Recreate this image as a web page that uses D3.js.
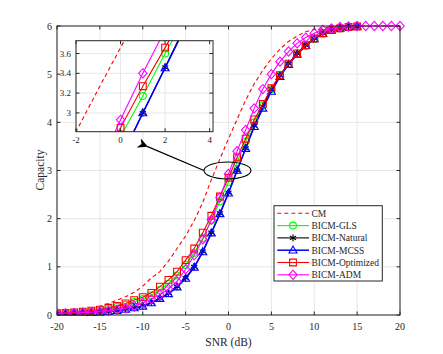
<!DOCTYPE html>
<html>
<head>
<meta charset="utf-8">
<script src="https://cdn.jsdelivr.net/npm/d3@7"></script>
<style>
  body { margin: 0; background: #fff; }
  text { font-family: "Liberation Serif", "DejaVu Serif", serif; fill: #262626; }
</style>
</head>
<body>
<div id="main"></div>
<script>
// SNR grid (dB)
var snr_full = d3.range(-20, 21);
var snr_bicm = d3.range(-20, 16);

// capacity values
var cm = [0.04, 0.05, 0.06, 0.08, 0.12, 0.18, 0.24, 0.31, 0.38, 0.47, 0.60, 0.77, 0.90, 1.12, 1.38, 1.64, 1.96, 2.34, 2.81, 3.24,
  3.66, 4.06, 4.46, 4.80, 5.08, 5.32, 5.52, 5.68, 5.79, 5.88, 5.93, 5.96, 5.98, 5.99, 6.0, 6.0, 6.0, 6.0, 6.0, 6.0, 6.0];
var gls = [0.03, 0.04, 0.05, 0.06, 0.08, 0.10, 0.13, 0.17, 0.21, 0.27, 0.33, 0.41, 0.52, 0.65, 0.82, 1.04, 1.29, 1.60, 1.96, 2.36,
  2.76, 3.17, 3.60, 4.00, 4.35, 4.69, 4.97, 5.21, 5.42, 5.59, 5.73, 5.84, 5.91, 5.95, 5.98, 5.99];
var natural = [0.02, 0.025, 0.03, 0.04, 0.05, 0.06, 0.075, 0.095, 0.12, 0.15, 0.19, 0.26, 0.35, 0.45, 0.59, 0.77, 1.00, 1.32, 1.71, 2.11,
  2.54, 3.00, 3.46, 3.93, 4.33, 4.69, 4.98, 5.22, 5.43, 5.60, 5.74, 5.85, 5.92, 5.95, 5.98, 5.99];
var mcss = [0.02, 0.025, 0.03, 0.035, 0.045, 0.055, 0.07, 0.09, 0.115, 0.145, 0.18, 0.25, 0.34, 0.44, 0.58, 0.76, 0.99, 1.31, 1.70, 2.10,
  2.53, 3.00, 3.455, 3.91, 4.29, 4.64, 4.95, 5.20, 5.41, 5.59, 5.73, 5.84, 5.91, 5.95, 5.98, 5.99];
var optimized = [0.035, 0.045, 0.055, 0.07, 0.09, 0.11, 0.15, 0.19, 0.24, 0.31, 0.37, 0.46, 0.59, 0.73, 0.90, 1.14, 1.38, 1.71, 2.06, 2.46,
  2.85, 3.27, 3.66, 4.06, 4.38, 4.71, 4.98, 5.22, 5.43, 5.60, 5.74, 5.85, 5.92, 5.95, 5.98, 5.99];
var adm = [0.03, 0.035, 0.04, 0.05, 0.06, 0.075, 0.09, 0.11, 0.14, 0.19, 0.25, 0.33, 0.42, 0.54, 0.70, 0.95, 1.24, 1.57, 1.98, 2.44,
  2.93, 3.40, 3.84, 4.29, 4.69, 5.00, 5.26, 5.47, 5.64, 5.76, 5.85, 5.92, 5.95, 5.98, 5.99, 6.0, 6.0, 6.0, 6.0, 6.0, 6.0];

var names = ['CM', 'BICM-GLS', 'BICM-Natural', 'BICM-MCSS', 'BICM-Optimized', 'BICM-ADM'];
var colors = ['#ff0000', '#00ff00', '#000000', '#0000ff', '#ff0000', '#ff00ff'];
var markers = ['none', 'circle', 'star', 'triangle', 'square', 'diamond'];

var x_ticks = [-20, -15, -10, -5, 0, 5, 10, 15, 20];
var y_ticks = [0, 1, 2, 3, 4, 5, 6];
var inset_x_ticks = [-2, 0, 2, 4];
var inset_y_ticks = [3, 3.2, 3.4, 3.6];

var series = [
  { x: snr_full, y: cm },
  { x: snr_bicm, y: gls },
  { x: snr_bicm, y: natural },
  { x: snr_bicm, y: mcss },
  { x: snr_bicm, y: optimized },
  { x: snr_full, y: adm }
];
series.forEach(function (s, i) {
  s.name = names[i];
  s.color = colors[i];
  s.marker = markers[i];
  s.points = s.x.map(function (v, k) { return [v, s.y[k]]; });
});

var width = 443, height = 354;
var svg = d3.select('#main').append('svg').attr('width', width).attr('height', height);

var x = d3.scaleLinear().domain([-20, 20]).range([57, 400]);
var y = d3.scaleLinear().domain([0, 6]).range([315, 26]);

function markerPath(type) {
  if (type === 'circle') return d3.symbol(d3.symbolCircle, 38)();
  if (type === 'square') return d3.symbol(d3.symbolSquare, 46)();
  if (type === 'triangle') return 'M0,-4.2L4,2.8L-4,2.8Z';
  if (type === 'diamond') return 'M0,-4.6L4.2,0L0,4.6L-4.2,0Z';
  if (type === 'star') return 'M0,-3.6L0,3.6M-3.1,-1.8L3.1,1.8M-3.1,1.8L3.1,-1.8';
  return null;
}

function drawSeries(g, xs, ys) {
  var line = d3.line().x(function (d) { return xs(d[0]); }).y(function (d) { return ys(d[1]); });
  series.forEach(function (s) {
    g.append('path')
      .attr('d', line(s.points))
      .attr('fill', 'none')
      .attr('stroke', s.color)
      .attr('stroke-width', s.name === 'BICM-MCSS' ? 1.5 : 1.1)
      .attr('stroke-dasharray', s.marker === 'none' ? '4,3' : null);
    if (s.marker !== 'none') {
      g.selectAll(null)
        .data(s.points)
        .enter()
        .append('path')
        .attr('d', markerPath(s.marker))
        .attr('transform', function (d) { return 'translate(' + xs(d[0]) + ',' + ys(d[1]) + ')'; })
        .attr('fill', 'none')
        .attr('stroke', s.color)
        .attr('stroke-width', 1.1);
    }
  });
}

function drawGrid(g, xs, ys, xt, yt) {
  var r = xs.range(), d = ys.range();
  g.selectAll(null).data(xt).enter().append('line')
    .attr('x1', function (v) { return xs(v); }).attr('x2', function (v) { return xs(v); })
    .attr('y1', d[0]).attr('y2', d[1]).attr('stroke', '#e6e6e6').attr('stroke-width', 1);
  g.selectAll(null).data(yt).enter().append('line')
    .attr('y1', function (v) { return ys(v); }).attr('y2', function (v) { return ys(v); })
    .attr('x1', r[0]).attr('x2', r[1]).attr('stroke', '#e6e6e6').attr('stroke-width', 1);
}

function drawBox(g, xs, ys, xt, yt, fs, xoff) {
  var r = xs.range(), d = ys.range();
  g.append('rect').attr('x', r[0]).attr('y', d[1]).attr('width', r[1] - r[0]).attr('height', d[0] - d[1])
    .attr('fill', 'none').attr('stroke', '#262626').attr('stroke-width', 1);
  var tl = 3.5;
  xt.forEach(function (v) {
    g.append('line').attr('x1', xs(v)).attr('x2', xs(v)).attr('y1', d[0]).attr('y2', d[0] - tl).attr('stroke', '#262626');
    g.append('line').attr('x1', xs(v)).attr('x2', xs(v)).attr('y1', d[1]).attr('y2', d[1] + tl).attr('stroke', '#262626');
    g.append('text').attr('x', xs(v)).attr('y', d[0] + xoff).attr('text-anchor', 'middle')
      .attr('font-size', fs).text(String(v));
  });
  yt.forEach(function (v) {
    g.append('line').attr('y1', ys(v)).attr('y2', ys(v)).attr('x1', r[0]).attr('x2', r[0] + tl).attr('stroke', '#262626');
    g.append('line').attr('y1', ys(v)).attr('y2', ys(v)).attr('x1', r[1]).attr('x2', r[1] - tl).attr('stroke', '#262626');
    g.append('text').attr('x', r[0] - 5).attr('y', ys(v)).attr('dy', '0.35em').attr('text-anchor', 'end')
      .attr('font-size', fs).text(String(v));
  });
}

// main axes
var main = svg.append('g');
svg.append('clipPath').attr('id', 'clip_main').append('rect')
  .attr('x', 57).attr('y', 20).attr('width', 350).attr('height', 296);
drawGrid(main, x, y, x_ticks, y_ticks);
drawSeries(main.append('g').attr('clip-path', 'url(#clip_main)'), x, y);
drawBox(main, x, y, x_ticks, y_ticks, 10, 15);

svg.append('text').attr('x', 228.5).attr('y', 346).attr('text-anchor', 'middle')
  .attr('font-size', 11.5).text('SNR (dB)');
svg.append('text').attr('transform', 'translate(40,170) rotate(-90)').attr('dy', '0.35em')
  .attr('text-anchor', 'middle').attr('font-size', 11.5).text('Capacity');

// zoom ellipse and arrow
svg.append('defs').append('marker').attr('id', 'arrow').attr('viewBox', '0 0 10 10')
  .attr('refX', 1).attr('refY', 5).attr('markerWidth', 10).attr('markerHeight', 10)
  .attr('markerUnits', 'userSpaceOnUse').attr('orient', 'auto-start-reverse')
  .append('path').attr('d', 'M0,5L10,0L7,5L10,10Z').attr('fill', '#000');
svg.append('ellipse').attr('cx', x(-0.12)).attr('cy', y(3.0)).attr('rx', 23.5).attr('ry', 8.5)
  .attr('fill', 'none').attr('stroke', '#000').attr('stroke-width', 1.1);
svg.append('line').attr('x1', x(-2.86)).attr('y1', y(3.0)).attr('x2', x(-9.5)).attr('y2', y(3.5))
  .attr('stroke', '#000').attr('stroke-width', 1.2).attr('marker-end', 'url(#arrow)');

// inset
var xi = d3.scaleLinear().domain([-2, 4.15]).range([76, 213]);
var yi = d3.scaleLinear().domain([2.81, 3.73]).range([131.7, 40.7]);
var inset = svg.append('g');
inset.append('rect').attr('x', 76).attr('y', 40.7).attr('width', 137).attr('height', 91).attr('fill', '#fff');
svg.append('clipPath').attr('id', 'clip_inset').append('rect')
  .attr('x', 76).attr('y', 40.7).attr('width', 137).attr('height', 91);
drawGrid(inset, xi, yi, inset_x_ticks, inset_y_ticks);
drawSeries(inset.append('g').attr('clip-path', 'url(#clip_inset)'), xi, yi);
drawBox(inset, xi, yi, inset_x_ticks, inset_y_ticks, 9, 11.5);

// legend
var lg = svg.append('g');
lg.append('rect').attr('x', 274).attr('y', 205.7).attr('width', 108.3).attr('height', 75.3)
  .attr('fill', '#fff').attr('stroke', '#262626').attr('stroke-width', 1);
series.forEach(function (s, i) {
  var ly = 213.3 + i * 12.3;
  lg.append('line').attr('x1', 277.3).attr('x2', 309).attr('y1', ly).attr('y2', ly)
    .attr('stroke', s.color).attr('stroke-width', s.name === 'BICM-MCSS' ? 1.5 : 1.1)
    .attr('stroke-dasharray', s.marker === 'none' ? '4,3' : null);
  if (s.marker !== 'none') {
    lg.append('path').attr('d', markerPath(s.marker)).attr('transform', 'translate(293,' + ly + ')')
      .attr('fill', 'none').attr('stroke', s.color).attr('stroke-width', 1.1);
  }
  lg.append('text').attr('x', 311.5).attr('y', ly).attr('dy', '0.35em').attr('font-size', 9.5).text(s.name);
});
</script>
</body>
</html>
